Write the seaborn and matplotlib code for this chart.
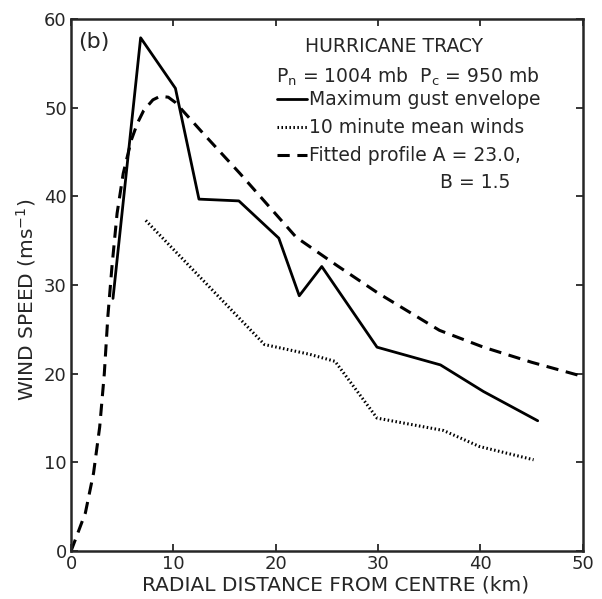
"""
Hurricane Tracy wind profile: gust envelope, 10 min means and fitted profile
"""

import matplotlib
matplotlib.use("Agg")
import matplotlib.pyplot as plt
import seaborn as sns

# maximum gust envelope (solid)
gust_km = [4.1, 6.8, 10.2, 12.5, 16.4, 20.3, 22.3, 24.5, 29.9, 36.1, 40.3, 45.6]
gust_ms = [28.5, 57.9, 52.2, 39.7, 39.5, 35.3, 28.8, 32.1, 23.0, 21.0, 18.0, 14.7]

# 10 minute mean winds (dotted)
mean_km = [7.3, 18.9, 23.3, 25.8, 29.9, 36.4, 39.9, 45.2]
mean_ms = [37.3, 23.3, 22.2, 21.4, 15.0, 13.6, 11.8, 10.3]

# fitted profile A = 23.0, B = 1.5 (dashed)
fit_km = [0, 1.4, 2.2, 2.8, 3.25, 3.6, 4.0, 4.5, 5.1, 5.9, 6.5, 7.1, 8.0, 8.7,
          9.5, 10.2, 13, 16.5, 22, 26, 30, 36, 40.3, 45, 50]
fit_ms = [0, 4.3, 8.8, 14.0, 20.0, 26.5, 32.1, 38.1, 42.6, 46.4, 48.3, 49.7, 50.9, 51.3,
          51.2, 50.6, 47.0, 42.6, 35.4, 32.2, 29.1, 24.9, 23.0, 21.3, 19.7]

x_ticks = [0, 10, 20, 30, 40, 50]
y_ticks = [0, 10, 20, 30, 40, 50, 60]

sns.set_style("ticks")
plt.rcParams['font.family'] = ['DejaVu Sans']

fig = plt.figure(figsize=(6.02, 5.99), dpi=100)
ax = fig.add_axes([0.118, 0.080, 0.850, 0.888])

sns.lineplot(x=gust_km, y=gust_ms, sort=False, ax=ax, color="black", lw=2.0,
             label="Maximum gust envelope")
sns.lineplot(x=mean_km, y=mean_ms, sort=False, ax=ax, color="black", lw=2.2,
             linestyle=(0, (0.5, 0.8)), label="10 minute mean winds")
sns.lineplot(x=fit_km, y=fit_ms, sort=False, ax=ax, color="black", lw=2.2,
             linestyle=(0, (4.0, 2.5)), label="Fitted profile A = 23.0,")

ax.set_xlim(0, 50)
ax.set_ylim(0, 60)
ax.set_xticks(x_ticks)
ax.set_yticks(y_ticks)
for sp in ax.spines.values():
    sp.set_linewidth(1.8)
    sp.set_visible(True)
ax.tick_params(direction="in", length=5, width=1.3, top=True, right=True,
               labelsize=13, pad=3)

ax.set_xlabel("RADIAL DISTANCE FROM CENTRE (km)", fontsize=14.5, labelpad=1)
ax.set_ylabel("WIND SPEED (ms$^{-1}$)", fontsize=14.5, labelpad=3)
ax.xaxis.set_label_coords(0.517, -0.045)
ax.yaxis.set_label_coords(-0.064, 0.472)

fs = 13.5
leg = ax.legend(loc="upper left", bbox_to_anchor=(0.402, 0.866), frameon=False,
                fontsize=fs, handlelength=1.6, handletextpad=0.1,
                labelspacing=0.47, borderpad=0, borderaxespad=0)

ax.text(0.013, 0.975, "(b)", transform=ax.transAxes, fontsize=16,
        va="top", ha="left")
ax.text(0.457, 0.938, "HURRICANE TRACY", transform=ax.transAxes,
        fontsize=fs, va="baseline", ha="left")
ax.text(0.400, 0.880, "P$_\\mathregular{n}$ = 1004 mb  P$_\\mathregular{c}$ = 950 mb",
        transform=ax.transAxes, fontsize=fs, va="baseline", ha="left")
ax.text(0.722, 0.682, "B = 1.5", transform=ax.transAxes, fontsize=fs,
        va="baseline", ha="left")

fig.savefig("out.png", dpi=100)
